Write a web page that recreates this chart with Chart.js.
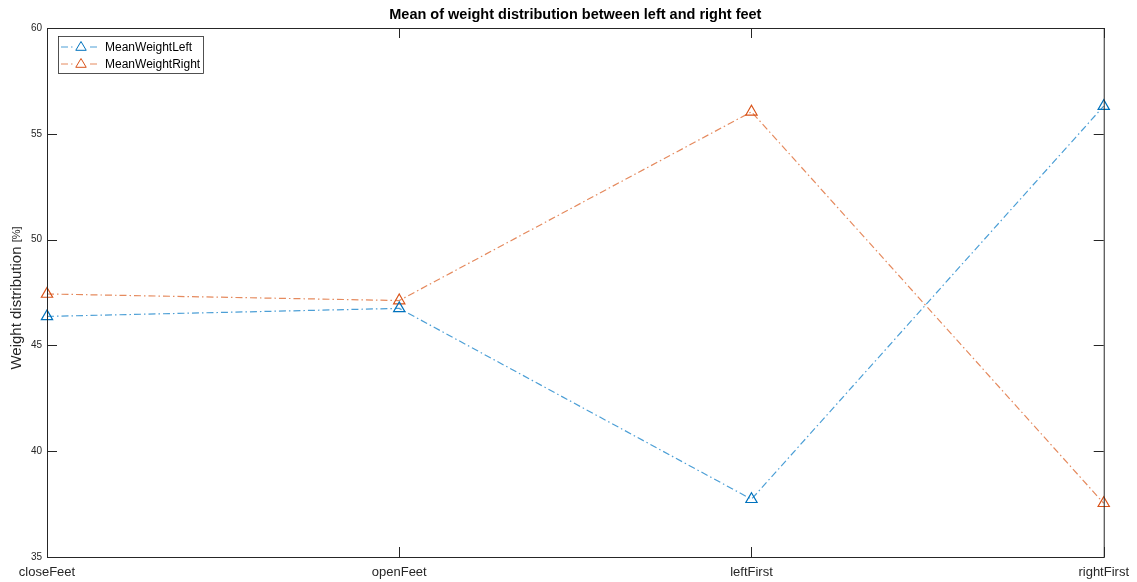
<!DOCTYPE html>
<html>
<head>
<meta charset="utf-8">
<script src="https://cdn.jsdelivr.net/npm/chart.js@4/dist/chart.umd.min.js"></script>
<style>
    html, body { margin: 0; padding: 0; background: #fff; }
    #wrap { width: 1137px; height: 582px; }
</style>
</head>
<body>
<div id="wrap"><canvas id="feetChart"></canvas></div>
<script>
const stances = ['closeFeet', 'openFeet', 'leftFirst', 'rightFirst'];
const meanWeightLeft = [46.37, 46.75, 37.73, 56.31];
const meanWeightRight = [47.43, 47.12, 56.04, 37.54];
const yTicks = [35, 40, 45, 50, 55, 60];

const FONT = 'Arial, "Liberation Sans", Helvetica, sans-serif';
const AXIS_COLOR = '#262626';
const DASH_DOT = [7, 3, 1.5, 3];

// frame, inward ticks, title, y label and legend box
const axesDecor = {
    id: 'axesDecor',
    afterDraw(chart) {
        const {ctx, chartArea: a, scales: {x, y}} = chart;
        ctx.save();
        ctx.strokeStyle = AXIS_COLOR;
        ctx.lineWidth = 1;
        ctx.strokeRect(a.left + 0.5, a.top + 0.5, a.right - a.left, a.bottom - a.top);

        ctx.beginPath();
        yTicks.forEach(v => {
            const py = Math.round(y.getPixelForValue(v)) + 0.5;
            ctx.moveTo(a.left, py); ctx.lineTo(a.left + 10, py);
            ctx.moveTo(a.right, py); ctx.lineTo(a.right - 10, py);
        });
        stances.forEach((s, i) => {
            const px = Math.round(x.getPixelForValue(i)) + 0.5;
            ctx.moveTo(px, a.bottom); ctx.lineTo(px, a.bottom - 10);
            ctx.moveTo(px, a.top); ctx.lineTo(px, a.top + 10);
        });
        ctx.stroke();

        // title
        ctx.fillStyle = '#000';
        ctx.font = 'bold 14.5px ' + FONT;
        ctx.textAlign = 'center';
        ctx.textBaseline = 'middle';
        ctx.fillText('Mean of weight distribution between left and right feet', (a.left + a.right) / 2, 15);

        // y axis label, unit in a smaller size
        ctx.save();
        ctx.translate(17, 298);
        ctx.rotate(-Math.PI / 2);
        ctx.fillStyle = AXIS_COLOR;
        ctx.textAlign = 'left';
        const main = 'Weight distribution ';
        ctx.font = '15px ' + FONT;
        const w = ctx.measureText(main).width;
        ctx.font = '11px ' + FONT;
        const unitW = ctx.measureText('[%]').width;
        const start = -(w + unitW) / 2;
        ctx.font = '15px ' + FONT;
        ctx.fillText(main, start, 0);
        ctx.font = '11px ' + FONT;
        ctx.fillText('[%]', start + w, 0);
        ctx.restore();

        // legend
        const bx = a.left + 11, by = a.top + 8, bw = 145, bh = 37;
        ctx.fillStyle = '#fff';
        ctx.fillRect(bx, by, bw, bh);
        ctx.lineWidth = 0.8;
        ctx.strokeStyle = AXIS_COLOR;
        ctx.strokeRect(bx + 0.5, by + 0.5, bw, bh);
        chart.data.datasets.forEach((ds, i) => {
            const ly = by + 11 + i * 17;
            ctx.strokeStyle = ds.borderColor;
            ctx.lineWidth = 1;
            ctx.setLineDash(DASH_DOT);
            ctx.beginPath();
            ctx.moveTo(bx + 3, ly); ctx.lineTo(bx + 42, ly);
            ctx.stroke();
            ctx.setLineDash([]);
            ctx.fillStyle = '#fff';
            ctx.fillRect(bx + 16, ly - 6, 14, 12);
            ctx.strokeStyle = ds.pointBorderColor;
            const r = 5.5, cx = bx + 23;
            ctx.beginPath();
            ctx.moveTo(cx, ly - r);
            ctx.lineTo(cx + r * 0.95, ly + r * 0.6);
            ctx.lineTo(cx - r * 0.95, ly + r * 0.6);
            ctx.closePath();
            ctx.stroke();
            ctx.fillStyle = '#000';
            ctx.font = '12px ' + FONT;
            ctx.textAlign = 'left';
            ctx.textBaseline = 'middle';
            ctx.fillText(ds.label, bx + 47, ly + 1);
        });
        ctx.restore();
    }
};

const series = (label, data, line, marker) => ({
    label,
    data,
    borderColor: line,
    backgroundColor: 'rgba(0,0,0,0)',
    borderWidth: 1.2,
    borderDash: DASH_DOT,
    tension: 0,
    pointStyle: 'triangle',
    pointRadius: 6.5,
    pointBorderWidth: 1.2,
    pointBorderColor: marker,
    pointBackgroundColor: 'rgba(0,0,0,0)'
});

new Chart(document.getElementById('feetChart'), {
    type: 'line',
    data: {
        labels: stances,
        datasets: [
            series('MeanWeightLeft', meanWeightLeft, '#4C9FD6', '#0072BD'),
            series('MeanWeightRight', meanWeightRight, '#E58A5E', '#D95319')
        ]
    },
    options: {
        responsive: true,
        maintainAspectRatio: false,
        animation: false,
        layout: {padding: {left: 0, right: 32, top: 28, bottom: 0}},
        scales: {
            x: {
                offset: false,
                grid: {display: false, drawTicks: false},
                border: {display: false},
                ticks: {
                    autoSkip: false, maxRotation: 0, padding: 8,
                    color: AXIS_COLOR, font: {family: FONT, size: 13}
                },
                afterFit: s => { s.height = 25; }
            },
            y: {
                min: 35,
                max: 60,
                grid: {display: false, drawTicks: false},
                border: {display: false},
                ticks: {
                    stepSize: 5, padding: 5,
                    color: AXIS_COLOR, font: {family: FONT, size: 10}
                },
                afterFit: s => { s.width = 47; }
            }
        },
        plugins: {
            legend: {display: false},
            title: {display: false},
            tooltip: {enabled: false}
        }
    },
    plugins: [axesDecor]
});
</script>
</body>
</html>
